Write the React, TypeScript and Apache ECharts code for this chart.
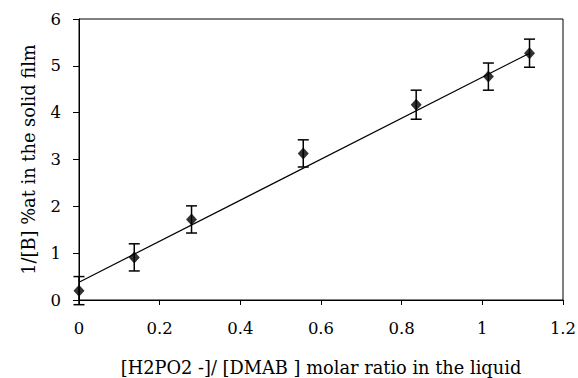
import React, { useEffect, useRef } from "react";
import * as echarts from "echarts";

const xValues = [0, 0.137, 0.279, 0.556, 0.836, 1.015, 1.117];
const yValues = [0.2, 0.91, 1.72, 3.13, 4.17, 4.77, 5.27];
const yErrors = [0.3, 0.29, 0.29, 0.29, 0.31, 0.29, 0.3];
const trendX = [0, 1.117];
const trendY = [0.38, 5.27];
const xTickLabels = ["0", "0.2", "0.4", "0.6", "0.8", "1", "1.2"];

const FONT = "DejaVu Serif";

export default function App() {
  const ref = useRef<HTMLDivElement>(null);
  useEffect(() => {
    if (!ref.current) return;
    const chart = echarts.init(ref.current, null, { renderer: "svg" });
    const points = xValues.map((x, i) => [x, yValues[i]]);
    const errData = xValues.map((x, i) => [x, yValues[i] - yErrors[i], yValues[i] + yErrors[i]]);
    const trend = trendX.map((x, i) => [x, trendY[i]]);
    chart.setOption({
      animation: false,
      backgroundColor: "#ffffff",
      textStyle: { fontFamily: FONT },
      grid: {
        left: 79,
        right: 15,
        top: 19,
        bottom: 78,
        show: true,
        borderColor: "#000",
        borderWidth: 1,
        containLabel: false,
        outerBoundsMode: "none",
      },
      xAxis: {
        type: "value",
        min: 0,
        max: 1.2,
        interval: 0.2,
        name: "[H2PO2 -]/ [DMAB ] molar ratio in the liquid",
        nameLocation: "middle",
        nameGap: 58,
        nameTextStyle: { fontFamily: FONT, fontSize: 17.8, color: "#000" },
        axisLine: { show: true, onZero: false, lineStyle: { color: "#000", width: 1 } },
        axisTick: { show: true, inside: false, length: 5, lineStyle: { color: "#000" } },
        splitLine: { show: false },
        axisLabel: {
          margin: 20,
          fontFamily: FONT,
          fontSize: 16.5,
          color: "#000",
          formatter: (v: number) => xTickLabels[Math.round(v / 0.2)] ?? String(v),
        },
      },
      yAxis: {
        type: "value",
        min: 0,
        max: 6,
        interval: 1,
        name: "1/[B] %at in the solid film",
        nameLocation: "middle",
        nameGap: 42,
        nameTextStyle: { fontFamily: FONT, fontSize: 17.8, color: "#000" },
        axisLine: { show: true, onZero: false, lineStyle: { color: "#000", width: 1 } },
        axisTick: { show: true, inside: false, length: 6, lineStyle: { color: "#000" } },
        splitLine: { show: false },
        axisLabel: { margin: 18, fontFamily: FONT, fontSize: 16.5, color: "#000" },
      },
      series: [
        {
          type: "line",
          data: trend,
          showSymbol: false,
          lineStyle: { color: "#000", width: 1.2 },
          silent: true,
          z: 2,
        },
        {
          type: "custom",
          data: errData,
          z: 3,
          renderItem: (params: any, api: any) => {
            const x = api.value(0);
            const lo = api.coord([x, api.value(1)]);
            const hi = api.coord([x, api.value(2)]);
            const cap = 5.5;
            const style = { stroke: "#000", lineWidth: 1.5 };
            return {
              type: "group",
              children: [
                { type: "line", shape: { x1: lo[0], y1: lo[1], x2: hi[0], y2: hi[1] }, style },
                { type: "line", shape: { x1: lo[0] - cap, y1: lo[1], x2: lo[0] + cap, y2: lo[1] }, style },
                { type: "line", shape: { x1: hi[0] - cap, y1: hi[1], x2: hi[0] + cap, y2: hi[1] }, style },
              ],
            };
          },
        },
        {
          type: "scatter",
          data: points,
          symbol: "diamond",
          symbolSize: [11, 12],
          itemStyle: { color: "#000" },
          z: 4,
        },
      ],
    });
    return () => chart.dispose();
  }, []);
  return (
    <div
      ref={ref}
      style={{ position: "fixed", left: 0, top: 0, width: 578, height: 378, background: "#fff" }}
    />
  );
}
